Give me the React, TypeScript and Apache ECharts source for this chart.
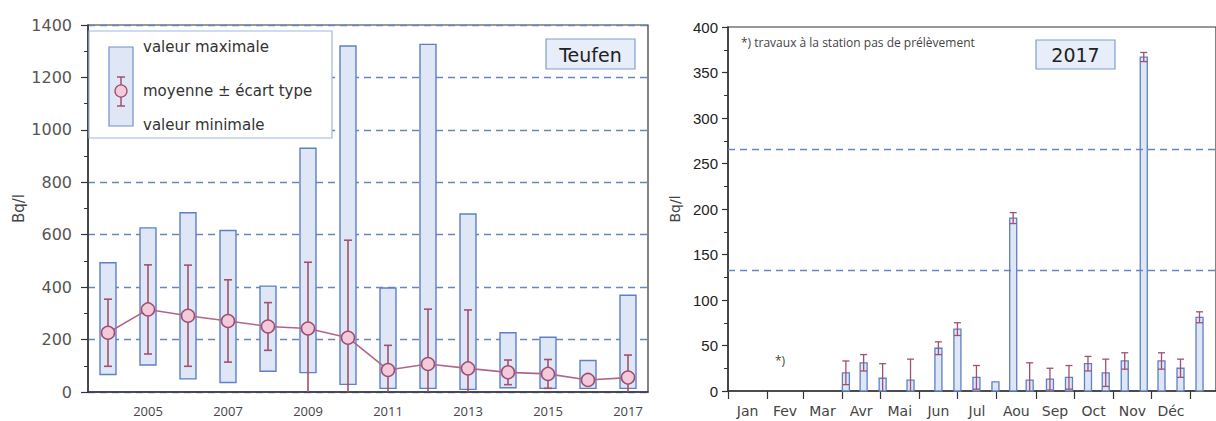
import React, { useEffect, useRef } from "react";
import * as echarts from "echarts";

// ---------- Left chart data (Teufen, yearly) ----------
const years = ["2004", "2005", "2006", "2007", "2008", "2009", "2010", "2011", "2012", "2013", "2014", "2015", "2016", "2017"];
const yearMax = [493, 626, 684, 616, 404, 930, 1320, 397, 1326, 679, 226, 209, 120, 369];
const yearMin = [67, 103, 50, 36, 79, 74, 29, 14, 14, 10, 16, 14, 14, 14];
const yearMean = [226, 315, 291, 271, 250, 242, 207, 84, 107, 90, 75, 69, 46, 55];
const yearSd = [128, 170, 193, 157, 91, 253, 372, 94, 209, 223, 47, 55, 14, 86];
const leftTicks = [0, 200, 400, 600, 800, 1000, 1200, 1400];

// ---------- Right chart data (2017 samples, day of year) ----------
const sampleDays = [93, 107, 122, 144, 166, 181, 196, 211, 225, 238, 254, 269, 284, 298, 313, 328, 342, 357, 372];
const sampleValues = [20, 31, 14, 12, 47, 68, 15, 10, 190, 12, 13, 15, 30, 20, 33, 367, 33, 25, 81];
const sampleErrors = [13, 9, 16, 23, 7, 7, 13, 0, 6, 19, 12, 13, 8, 15, 9, 5, 9, 10, 6];
const monthNames = ["Jan", "Fev", "Mar", "Avr", "Mai", "Jun", "Jul", "Aou", "Sep", "Oct", "Nov", "Déc"];
const monthStarts = [0, 31, 59, 90, 120, 151, 181, 212, 243, 273, 304, 334, 365];
const refLevels = [133, 266];

const BAR_FILL = "#dfe7f6";
const BAR_STROKE = "#5d80c6";
const ERR_COLOR = "#a2506f";
const GRID_DASH = "#6a84c0";
const AXIS_COLOR = "#333";

export default function App() {
  const ref = useRef<HTMLDivElement>(null);

  useEffect(() => {
    if (!ref.current) return;
    const chart = echarts.init(ref.current, undefined, { renderer: "svg" });

    const monthMids = monthStarts.slice(0, 12).map((s, i) => (s + monthStarts[i + 1]) / 2);

    const rangeData = years.map((_, i) => [i, yearMin[i], yearMax[i]]);
    const errData = years.map((_, i) => [i, yearMean[i], yearSd[i]]);
    const rightData = sampleDays.map((d, i) => [d, sampleValues[i], sampleErrors[i]]);

    const errRenderer = (capW: number, lw: number) => (params: any, api: any) => {
      const x = api.value(0);
      const m = api.value(1);
      const s = api.value(2);
      if (!s) return null;
      const top = api.coord([x, m + s]);
      const lowVal = m - s;
      const bot = api.coord([x, Math.max(lowVal, 0)]);
      const st = { stroke: ERR_COLOR, lineWidth: lw };
      const children: any[] = [
        { type: "line", shape: { x1: top[0], y1: top[1], x2: bot[0], y2: bot[1] }, style: st },
        { type: "line", shape: { x1: top[0] - capW / 2, y1: top[1], x2: top[0] + capW / 2, y2: top[1] }, style: st },
      ];
      if (lowVal >= 0) {
        children.push({ type: "line", shape: { x1: bot[0] - capW / 2, y1: bot[1], x2: bot[0] + capW / 2, y2: bot[1] }, style: st });
      }
      return { type: "group", children };
    };

    const labelFont = { fontFamily: "DejaVu Sans" };

    const option: any = {
      animation: false,
      backgroundColor: "#fff",
      grid: [
        { left: 88, top: 25, width: 560, height: 367, show: true, borderColor: AXIS_COLOR, borderWidth: 1.2, backgroundColor: "transparent" },
        { left: 728, top: 27, width: 498, height: 364, show: true, borderColor: AXIS_COLOR, borderWidth: 1.2, backgroundColor: "transparent" },
      ],
      xAxis: [
        {
          gridIndex: 0,
          type: "category",
          data: years,
          boundaryGap: true,
          axisLine: { lineStyle: { color: AXIS_COLOR, width: 1.5 } },
          axisTick: { alignWithLabel: true, interval: 0, length: 8, lineStyle: { color: AXIS_COLOR, width: 1.2 } },
          axisLabel: {
            interval: (i: number) => i % 2 === 1,
            margin: 12,
            color: "#444",
            fontSize: 13,
            fontFamily: "Open Sans",
          },
          splitLine: { show: false },
        },
        {
          gridIndex: 1,
          type: "value",
          min: 0,
          max: 385,
          axisLine: { onZero: false, lineStyle: { color: AXIS_COLOR, width: 1.5 } },
          axisTick: { customValues: monthStarts, length: 8, lineStyle: { color: AXIS_COLOR, width: 1.2 } },
          axisLabel: {
            customValues: monthMids,
            formatter: (v: number) => {
              const idx = monthMids.findIndex((m) => Math.abs(m - v) < 0.01);
              return idx >= 0 ? monthNames[idx] : "";
            },
            margin: 13,
            color: "#444",
            fontSize: 14,
            ...labelFont,
          },
          splitLine: { show: false },
        },
      ],
      yAxis: [
        {
          gridIndex: 0,
          type: "value",
          min: 0,
          max: 1400,
          interval: 200,
          name: "Bq/l",
          nameLocation: "middle",
          nameGap: 62,
          nameTextStyle: { color: "#444", fontSize: 15, ...labelFont },
          axisLine: { show: true, lineStyle: { color: AXIS_COLOR, width: 1.5 } },
          axisTick: { show: true, length: 7, lineStyle: { color: AXIS_COLOR, width: 1.2 } },
          minorTick: { show: true, splitNumber: 2, length: 4, lineStyle: { color: AXIS_COLOR, width: 1 } },
          axisLabel: {
            margin: 16,
            color: "#555",
            fontSize: 16,
            ...labelFont,
            formatter: (v: number) => (leftTicks.includes(v) ? String(v) : ""),
          },
          splitLine: { show: true, lineStyle: { color: GRID_DASH, type: [7, 5], width: 1.3 } },
        },
        {
          gridIndex: 1,
          type: "value",
          min: 0,
          max: 400,
          interval: 50,
          name: "Bq/l",
          nameLocation: "middle",
          nameGap: 46,
          nameTextStyle: { color: "#444", fontSize: 14, ...labelFont },
          axisLine: { show: true, lineStyle: { color: AXIS_COLOR, width: 1.5 } },
          axisTick: { show: true, length: 6, lineStyle: { color: AXIS_COLOR, width: 1.2 } },
          minorTick: { show: true, splitNumber: 2, length: 4, lineStyle: { color: AXIS_COLOR, width: 1 } },
          axisLabel: { margin: 10, color: "#222", fontSize: 15, fontFamily: "Liberation Sans" },
          splitLine: { show: false },
        },
      ],
      series: [
        {
          type: "custom",
          xAxisIndex: 0,
          yAxisIndex: 0,
          data: rangeData,
          encode: { x: 0, y: [1, 2] },
          z: 2,
          renderItem: (params: any, api: any) => {
            const i = api.value(0);
            const lo = api.coord([i, api.value(1)]);
            const hi = api.coord([i, api.value(2)]);
            const w = api.size([1, 0])[0] * 0.4;
            return {
              type: "rect",
              shape: { x: lo[0] - w / 2, y: hi[1], width: w, height: lo[1] - hi[1] },
              style: { fill: BAR_FILL, stroke: BAR_STROKE, lineWidth: 1.4 },
            };
          },
        },
        {
          type: "custom",
          xAxisIndex: 0,
          yAxisIndex: 0,
          data: errData,
          encode: { x: 0, y: 1 },
          z: 3,
          renderItem: errRenderer(8, 1.6),
        },
        {
          type: "line",
          xAxisIndex: 0,
          yAxisIndex: 0,
          data: yearMean,
          z: 4,
          symbol: "circle",
          symbolSize: 13,
          lineStyle: { color: "#b0668a", width: 1.6 },
          itemStyle: { color: "#f4c9d9", borderColor: "#9e4f6f", borderWidth: 1.5 },
        },
        {
          type: "custom",
          xAxisIndex: 1,
          yAxisIndex: 1,
          data: rightData,
          encode: { x: 0, y: 1 },
          z: 2,
          renderItem: (params: any, api: any) => {
            const x = api.value(0);
            const p0 = api.coord([x, 0]);
            const p1 = api.coord([x, api.value(1)]);
            const w = 7;
            return {
              type: "rect",
              shape: { x: p0[0] - w / 2, y: p1[1], width: w, height: p0[1] - p1[1] },
              style: { fill: BAR_FILL, stroke: BAR_STROKE, lineWidth: 1.3 },
            };
          },
          markLine: {
            silent: true,
            symbol: "none",
            label: { show: false },
            lineStyle: { color: GRID_DASH, type: [7, 5], width: 1.4 },
            data: refLevels.map((v) => ({ yAxis: v })),
          },
        },
        {
          type: "custom",
          xAxisIndex: 1,
          yAxisIndex: 1,
          data: rightData,
          encode: { x: 0, y: 1 },
          z: 3,
          renderItem: errRenderer(7, 1.3),
        },
      ],
      graphic: [
        // left legend box
        { type: "rect", z: 100, shape: { x: 89, y: 31, width: 243, height: 107 }, style: { fill: "#fff", stroke: "#9fb5de", lineWidth: 1.2 } },
        { type: "rect", z: 101, shape: { x: 109, y: 47, width: 24, height: 79 }, style: { fill: BAR_FILL, stroke: "#7391ca", lineWidth: 1.2 } },
        { type: "line", z: 102, shape: { x1: 121, y1: 77, x2: 121, y2: 106 }, style: { stroke: ERR_COLOR, lineWidth: 1.5 } },
        { type: "line", z: 102, shape: { x1: 117, y1: 77, x2: 125, y2: 77 }, style: { stroke: ERR_COLOR, lineWidth: 1.5 } },
        { type: "line", z: 102, shape: { x1: 117, y1: 106, x2: 125, y2: 106 }, style: { stroke: ERR_COLOR, lineWidth: 1.5 } },
        { type: "circle", z: 103, shape: { cx: 121, cy: 91, r: 6 }, style: { fill: "#f4c9d9", stroke: "#9e4f6f", lineWidth: 1.3 } },
        { type: "text", z: 103, style: { text: "valeur maximale", x: 143, y: 47, verticalAlign: "middle", font: "15px 'DejaVu Sans'", fill: "#333" } },
        { type: "text", z: 103, style: { text: "moyenne ± écart type", x: 143, y: 91, verticalAlign: "middle", font: "15px 'DejaVu Sans'", fill: "#333" } },
        { type: "text", z: 103, style: { text: "valeur minimale", x: 143, y: 125, verticalAlign: "middle", font: "15px 'DejaVu Sans'", fill: "#333" } },
        // Teufen label
        { type: "rect", z: 100, shape: { x: 546, y: 39, width: 89, height: 30 }, style: { fill: "#e7edf9", stroke: "#7f9fd0", lineWidth: 1.2 } },
        { type: "text", z: 101, style: { text: "Teufen", x: 590.5, y: 54.5, align: "center", verticalAlign: "middle", font: "19px 'DejaVu Sans'", fill: "#222" } },
        // right annotations
        { type: "text", z: 100, style: { text: "*) travaux à la station pas de prélèvement", x: 741, y: 42, verticalAlign: "middle", font: "12px 'Open Sans'", fill: "#444" } },
        { type: "rect", z: 100, shape: { x: 1036, y: 40, width: 79, height: 29 }, style: { fill: "#e7edf9", stroke: "#7f9fd0", lineWidth: 1.2 } },
        { type: "text", z: 101, style: { text: "2017", x: 1075.5, y: 54.5, align: "center", verticalAlign: "middle", font: "19px 'DejaVu Sans'", fill: "#222" } },
        { type: "text", z: 100, style: { text: "*)", x: 775, y: 360, verticalAlign: "middle", font: "12px 'Open Sans'", fill: "#444" } },
      ],
    };

    chart.setOption(option);
    return () => chart.dispose();
  }, []);

  return <div ref={ref} style={{ position: "absolute", left: 0, top: 0, width: 1216, height: 421 }} />;
}
